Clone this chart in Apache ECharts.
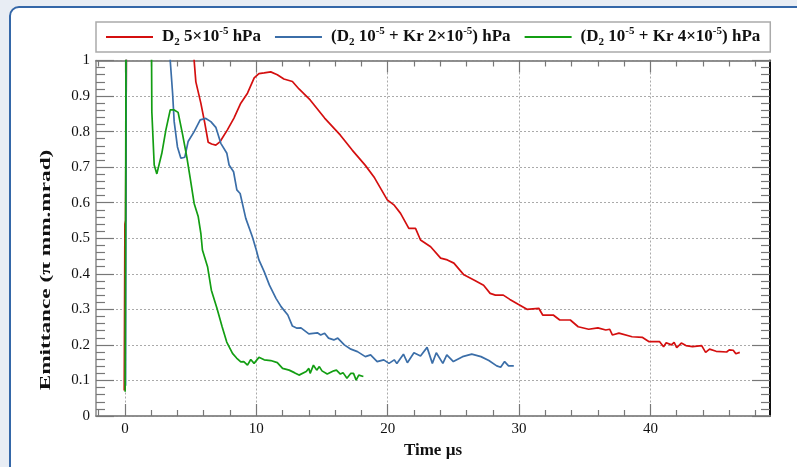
<!DOCTYPE html>
<html>
<head>
<meta charset="utf-8">
<script src="https://cdn.jsdelivr.net/npm/echarts@6/dist/echarts.min.js"></script>
<style>
  html, body { margin: 0; padding: 0; background: #e8edf4; }
  #chart { width: 797px; height: 467px; }
</style>
</head>
<body>
<div id="chart"></div>
<script>
// 曲线数据：[时间 µs, 发射度] 读自原图，>1 的点在图外被裁掉
const d2Time = [-0.05, 0.0, 0.05, 0.15, 5.05, 5.27, 5.4, 5.78, 6.08, 6.34, 6.6, 6.92, 7.25, 7.8, 8.3, 8.82, 9.33, 9.84, 10.2, 10.6, 11.1, 11.6, 12.1, 12.75, 13.25,
  14.1, 15.2, 16.4, 17.3, 18.3, 19.0, 19.97, 20.47, 20.98, 21.61, 22.12, 22.5, 23.27, 24.03, 24.54, 25.04, 25.8, 26.6, 27.3, 27.8, 28.2, 28.8, 29.3, 29.9,
  30.6, 31.5, 31.8, 32.6, 33.1, 33.9, 34.5, 35.3, 36.0, 36.6, 36.9, 37.1, 37.6, 38.6, 39.4, 39.9, 40.7, 41.0, 41.2, 41.6, 41.8, 42.0, 42.35, 42.7,
  43.2, 43.9, 44.2, 44.5, 45.0, 45.8, 46.0, 46.3, 46.5, 46.8];
const d2Emit = [0.072, 0.54, 0.55, 1.3, 1.1, 1.0, 0.94, 0.88, 0.824, 0.77, 0.765, 0.762, 0.772, 0.805, 0.838, 0.88, 0.908, 0.951, 0.963, 0.965, 0.968, 0.96, 0.948, 0.941, 0.92,
  0.889, 0.838, 0.79, 0.748, 0.705, 0.67, 0.608, 0.594, 0.57, 0.528, 0.528, 0.495, 0.476, 0.444, 0.439, 0.43, 0.397, 0.382, 0.368, 0.345, 0.34, 0.34, 0.328, 0.315,
  0.3, 0.303, 0.284, 0.284, 0.27, 0.27, 0.251, 0.244, 0.248, 0.242, 0.244, 0.228, 0.233, 0.223, 0.221, 0.209, 0.209, 0.195, 0.206, 0.2, 0.207, 0.192, 0.205, 0.198,
  0.195, 0.198, 0.179, 0.188, 0.182, 0.18, 0.186, 0.185, 0.175, 0.179];

const kr2Time = [0.05, 0.12, 3.4, 3.45, 3.63, 3.75, 4.0, 4.26, 4.56, 4.81, 5.27, 5.73, 6.16, 6.54, 6.92, 7.3, 7.76, 7.93, 8.27, 8.52, 8.77, 9.2, 9.7, 10.0, 10.2,
  10.6, 11.0, 11.5, 11.9, 12.4, 12.75, 13.1, 13.4, 14.0, 14.65, 14.9, 15.2, 15.5, 15.9, 16.2, 16.7, 17.2, 17.7, 18.3, 18.7, 19.2, 19.7, 20.1, 20.5, 20.7,
  21.2, 21.5, 22.0, 22.5, 23.0, 23.4, 23.7, 24.2, 24.5, 25.0, 25.7, 26.4, 27.1, 27.7, 28.3, 28.6, 28.9, 29.2, 29.6];
const kr2Emit = [0.085, 1.3, 1.1, 1.0, 0.908, 0.828, 0.757, 0.725, 0.728, 0.772, 0.8, 0.833, 0.837, 0.828, 0.812, 0.767, 0.739, 0.706, 0.687, 0.636, 0.626, 0.556, 0.504, 0.467, 0.439,
  0.406, 0.368, 0.331, 0.307, 0.284, 0.253, 0.247, 0.248, 0.231, 0.234, 0.228, 0.233, 0.219, 0.214, 0.219, 0.2, 0.188, 0.181, 0.167, 0.172, 0.153, 0.158, 0.148, 0.158, 0.148,
  0.174, 0.15, 0.178, 0.169, 0.193, 0.148, 0.178, 0.148, 0.172, 0.153, 0.167, 0.174, 0.167, 0.156, 0.141, 0.137, 0.153, 0.141, 0.141];

const kr4Time = [0.02, 0.1, 2.0, 2.03, 2.05, 2.23, 2.43, 2.81, 3.12, 3.45, 3.75, 4.05, 4.4, 4.71, 4.97, 5.27, 5.58, 5.78, 5.9, 6.29, 6.58, 7.0, 7.4, 7.75, 8.19,
  8.5, 8.82, 9.05, 9.33, 9.58, 9.83, 10.2, 10.6, 11.1, 11.6, 12.0, 12.5, 12.9, 13.25, 13.8, 14.0, 14.1, 14.35, 14.6, 14.8, 15.0, 15.4, 15.9, 16.1, 16.4,
  16.6, 16.9, 17.2, 17.4, 17.6, 17.8, 18.15];
const kr4Emit = [0.068, 1.3, 1.1, 1.0, 0.856, 0.706, 0.681, 0.739, 0.805, 0.861, 0.861, 0.854, 0.79, 0.729, 0.669, 0.598, 0.561, 0.514, 0.467, 0.42, 0.354, 0.304, 0.251, 0.208, 0.176,
  0.163, 0.152, 0.153, 0.143, 0.159, 0.148, 0.165, 0.158, 0.156, 0.15, 0.134, 0.129, 0.122, 0.115, 0.125, 0.134, 0.12, 0.143, 0.129, 0.139, 0.127, 0.118, 0.127, 0.129, 0.118,
  0.122, 0.106, 0.12, 0.12, 0.101, 0.115, 0.111];

// 坐标轴刻度
const xMajorTicks = [0, 10, 20, 30, 40];
const xMinorTicks = [-2, 2, 4, 6, 8, 12, 14, 16, 18, 22, 24, 26, 28, 32, 34, 36, 38, 42, 44, 46, 48];

const seriesNames = ['d2', 'kr2', 'kr4'];
const seriesColors = ['#d40f0f', '#3b6ea8', '#139e13'];
// 图例文本（富文本：下标 / 上标）
const legendLabels = {
  d2: '{b|D}{sub|2}{b| 5×10}{sup|-5}{b| hPa}',
  kr2: '{b|(D}{sub|2}{b| 10}{sup|-5}{b| + Kr 2×10}{sup|-5}{b|) hPa}',
  kr4: '{b|(D}{sub|2}{b| 10}{sup|-5}{b| + Kr 4×10}{sup|-5}{b|) hPa}'
};

const serif = '"Liberation Serif", "DejaVu Serif", serif';
const zip = (t, v) => t.map((x, i) => [x, v[i]]);
const curves = [zip(d2Time, d2Emit), zip(kr2Time, kr2Emit), zip(kr4Time, kr4Emit)];

const chart = echarts.init(document.getElementById('chart'));

/** 生成一条 x 轴（主刻度或次刻度） */
function xAxisOf(position, ticks, len, withLabels) {
  return {
    type: 'value', position, min: -2.2, max: 49.1,
    axisLine: { show: true, onZero: false, lineStyle: { color: '#888', width: 1.5 } },
    axisTick: { show: true, inside: true, length: len, customValues: ticks, lineStyle: { color: '#777', width: 1.2 } },
    axisLabel: withLabels
      ? { show: true, customValues: ticks, margin: 6, fontFamily: serif, fontSize: 15, color: '#111' }
      : { show: false },
    splitLine: withLabels
      ? { show: true, lineStyle: { color: '#aaa', type: [2, 2], width: 1 } }
      : { show: false },
    name: withLabels ? 'Time µs' : '',
    nameLocation: 'middle', nameGap: 19,
    nameTextStyle: { fontFamily: serif, fontWeight: 'bold', fontSize: 17, color: '#111' }
  };
}

/** 生成左 / 右 y 轴 */
function yAxisOf(position, main) {
  return {
    type: 'value', position, min: 0, max: 1, interval: 0.1,
    axisLine: { show: true, onZero: false, lineStyle: { color: main ? '#888' : '#111', width: main ? 1.5 : 2 } },
    axisTick: { show: true, inside: true, length: 18, lineStyle: { color: '#777', width: 1.2 } },
    minorTick: { show: true, splitNumber: 5, length: 9, lineStyle: { color: '#777', width: 1.2 } },
    axisLabel: main ? { margin: 6, fontFamily: serif, fontSize: 15, color: '#111' } : { show: false },
    splitLine: { show: main, lineStyle: { color: '#aaa', type: [2, 2], width: 1 } }
  };
}

chart.setOption({
  backgroundColor: '#e8edf4',
  animation: false,
  graphic: [
    {
      type: 'rect', z: -10, silent: true,
      shape: { x: 10, y: 7, width: 830, height: 520, r: 9 },
      style: { fill: '#fff', stroke: '#3467a8', lineWidth: 2 }
    },
    {
      // 纵轴标题：原图被纵向拉伸，这里沿文字方向放大
      type: 'text', x: 46, y: 270, rotation: Math.PI / 2, scaleX: 1.55,
      style: {
        text: 'Emittance (π mm.mrad)', fill: '#111',
        font: 'bold 15px ' + serif, align: 'center', verticalAlign: 'middle'
      }
    }
  ],
  legend: {
    left: 96, top: 22,
    padding: [4, 10, 4, 10],
    icon: 'rect', itemWidth: 47, itemHeight: 2, itemGap: 14,
    borderColor: '#aaa', borderWidth: 1.5,
    data: seriesNames,
    formatter: (name) => legendLabels[name],
    textStyle: {
      padding: [0, 0, 0, 4],
      rich: {
        b: { fontFamily: serif, fontWeight: 'bold', fontSize: 17, color: '#111', lineHeight: 22 },
        sub: { fontFamily: serif, fontWeight: 'bold', fontSize: 11, color: '#111', lineHeight: 10, verticalAlign: 'bottom' },
        sup: { fontFamily: serif, fontWeight: 'bold', fontSize: 11, color: '#111', lineHeight: 12, verticalAlign: 'top' }
      }
    }
  },
  grid: { left: 96, right: 27, top: 60.5, bottom: 51, containLabel: false },
  xAxis: [
    xAxisOf('bottom', xMajorTicks, 12, true),
    xAxisOf('bottom', xMinorTicks, 6, false),
    xAxisOf('top', xMajorTicks, 12, false),
    xAxisOf('top', xMinorTicks, 6, false)
  ],
  yAxis: [yAxisOf('left', true), yAxisOf('right', false)],
  series: seriesNames.map((name, i) => ({
    name, type: 'line', data: curves[i],
    xAxisIndex: 0, yAxisIndex: 0,
    symbol: 'none', clip: true,
    lineStyle: { color: seriesColors[i], width: 1.7 },
    itemStyle: { color: seriesColors[i] }
  }))
});

window.addEventListener('resize', () => chart.resize());
</script>
</body>
</html>
